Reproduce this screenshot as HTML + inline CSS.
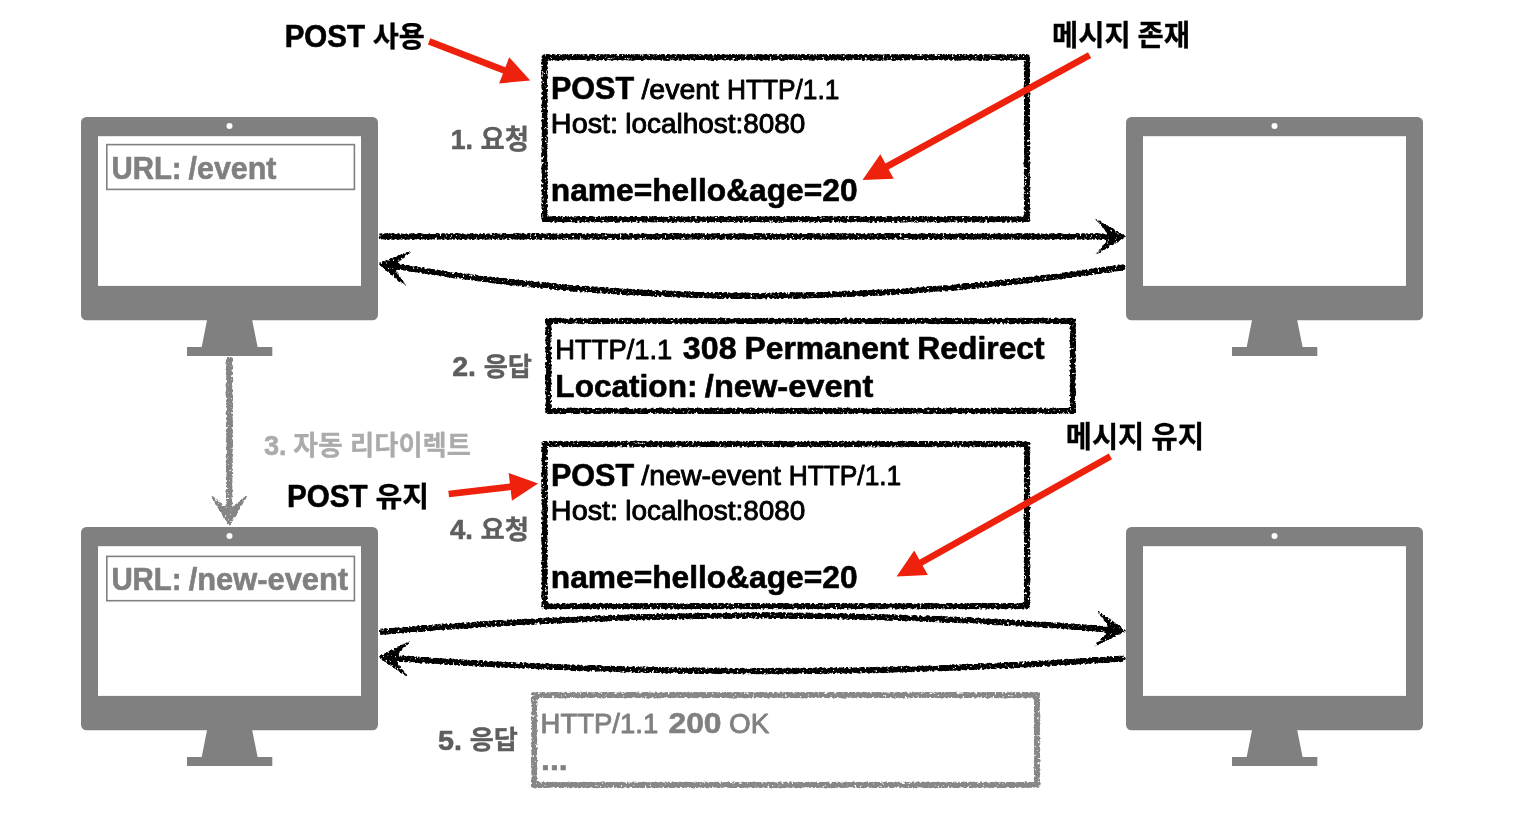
<!DOCTYPE html>
<html lang="ko"><head><meta charset="utf-8"><title>HTTP 308 Permanent Redirect</title>
<style>
html,body{margin:0;padding:0;background:#fff}
body{width:1518px;height:833px;overflow:hidden}
svg{display:block}
text{font-family:'Liberation Sans','Noto Sans CJK KR',sans-serif;white-space:pre;stroke-width:.9px;stroke-linejoin:round}
.b{font-weight:700;stroke-width:.6px}
.k{stroke-width:.3px}
</style></head><body>
<svg width="1518" height="833" viewBox="0 0 1518 833">
<defs>
<filter id="chalk" filterUnits="userSpaceOnUse" x="0" y="0" width="1518" height="833" color-interpolation-filters="sRGB"><feGaussianBlur in="SourceAlpha" stdDeviation="0.9" result="a"/><feTurbulence type="fractalNoise" baseFrequency="0.4" numOctaves="2" seed="3" result="n"/><feComposite in="a" in2="n" operator="arithmetic" k1="2.1" k2="-0.050" k3="0" k4="0" result="m"/><feComponentTransfer in="m" result="t"><feFuncA type="linear" slope="4" intercept="-1.500"/></feComponentTransfer><feFlood flood-color="#000" result="c"/><feComposite in="c" in2="t" operator="in"/></filter>
<filter id="chalkbox" filterUnits="userSpaceOnUse" x="0" y="0" width="1518" height="833" color-interpolation-filters="sRGB"><feGaussianBlur in="SourceAlpha" stdDeviation="0.9" result="a"/><feTurbulence type="fractalNoise" baseFrequency="0.4" numOctaves="2" seed="7" result="n"/><feComposite in="a" in2="n" operator="arithmetic" k1="2.1" k2="-0.050" k3="0" k4="0" result="m"/><feComponentTransfer in="m" result="t"><feFuncA type="linear" slope="4" intercept="-1.500"/></feComponentTransfer><feFlood flood-color="#000" result="c"/><feComposite in="c" in2="t" operator="in"/></filter>
<filter id="chalkg" filterUnits="userSpaceOnUse" x="0" y="0" width="1518" height="833" color-interpolation-filters="sRGB"><feGaussianBlur in="SourceAlpha" stdDeviation="0.9" result="a"/><feTurbulence type="fractalNoise" baseFrequency="0.4" numOctaves="2" seed="11" result="n"/><feComposite in="a" in2="n" operator="arithmetic" k1="2.1" k2="-0.050" k3="0" k4="0" result="m"/><feComponentTransfer in="m" result="t"><feFuncA type="linear" slope="4" intercept="-1.500"/></feComponentTransfer><feFlood flood-color="#878787" result="c"/><feComposite in="c" in2="t" operator="in"/></filter>
<filter id="chalkv" filterUnits="userSpaceOnUse" x="0" y="0" width="1518" height="833" color-interpolation-filters="sRGB"><feGaussianBlur in="SourceAlpha" stdDeviation="0.9" result="a"/><feTurbulence type="fractalNoise" baseFrequency="0.4" numOctaves="2" seed="5" result="n"/><feComposite in="a" in2="n" operator="arithmetic" k1="2.1" k2="-0.050" k3="0" k4="0" result="m"/><feComponentTransfer in="m" result="t"><feFuncA type="linear" slope="4" intercept="-1.500"/></feComponentTransfer><feFlood flood-color="#858585" result="c"/><feComposite in="c" in2="t" operator="in"/></filter>
</defs>
<rect width="1518" height="833" fill="#fff"/>
<g id="shapes">
<g transform="translate(81,117)">
<path fill="#808080" d="M5.5 0H291.5a5.5 5.5 0 0 1 5.500 5.500V197.800a5.500 5.500 0 0 1 -5.500 5.500H171.200L176.600 230H191.300V239H106V230H120.700L126 203.300H5.500a5.500 5.500 0 0 1 -5.500 -5.500V5.500a5.500 5.500 0 0 1 5.500 -5.500Z"/>
<rect x="17" y="19.200" width="263" height="149.700" fill="#fff"/>
<circle cx="148.500" cy="9" r="3" fill="#fff"/>
</g><g transform="translate(1126,117)">
<path fill="#808080" d="M5.5 0H291.5a5.5 5.5 0 0 1 5.500 5.500V197.800a5.500 5.500 0 0 1 -5.500 5.500H171.200L176.600 230H191.300V239H106V230H120.700L126 203.300H5.500a5.500 5.500 0 0 1 -5.500 -5.500V5.500a5.500 5.500 0 0 1 5.500 -5.500Z"/>
<rect x="17" y="19.200" width="263" height="149.700" fill="#fff"/>
<circle cx="148.500" cy="9" r="3" fill="#fff"/>
</g><g transform="translate(81,527)">
<path fill="#808080" d="M5.5 0H291.5a5.5 5.5 0 0 1 5.500 5.500V197.800a5.500 5.500 0 0 1 -5.500 5.500H171.200L176.600 230H191.300V239H106V230H120.700L126 203.300H5.500a5.500 5.500 0 0 1 -5.500 -5.500V5.500a5.500 5.500 0 0 1 5.500 -5.500Z"/>
<rect x="17" y="19.200" width="263" height="149.700" fill="#fff"/>
<circle cx="148.500" cy="9" r="3" fill="#fff"/>
</g><g transform="translate(1126,527)">
<path fill="#808080" d="M5.5 0H291.5a5.5 5.5 0 0 1 5.500 5.500V197.800a5.500 5.500 0 0 1 -5.500 5.500H171.200L176.600 230H191.300V239H106V230H120.700L126 203.300H5.500a5.500 5.500 0 0 1 -5.500 -5.500V5.500a5.500 5.500 0 0 1 5.500 -5.500Z"/>
<rect x="17" y="19.200" width="263" height="149.700" fill="#fff"/>
<circle cx="148.500" cy="9" r="3" fill="#fff"/>
</g><rect x="106.8" y="144.6" width="247.6" height="44.8" fill="none" stroke="#808080" stroke-width="1.6"/><rect x="106.8" y="556.4" width="247.6" height="44.3" fill="none" stroke="#808080" stroke-width="1.6"/><g filter="url(#chalkv)" fill="#858585"><rect x="226.1" y="357" width="6.6" height="152"/><path d="M229.2 526.8L249.2 493.1L229.2 510.1L209.2 493.1Z"/></g><g filter="url(#chalk)" stroke="#000" stroke-width="6.0" fill="none" stroke-linecap="butt" stroke-linejoin="miter"><path d="M379 236.5H1110"/><path stroke="none" fill="#000" d="M1126.7 236.8L1093.0 217.0L1111.0 236.8L1093.0 256.6Z"/></g><g filter="url(#chalk)" stroke="#000" stroke-width="6.0" fill="none" stroke-linecap="butt" stroke-linejoin="miter"><path d="M1125 267Q752 325.300 392 265.900"/><path stroke="none" fill="#000" d="M377.8 263.5L407.8 288.6L393.3 266.1L414.3 249.6Z"/></g><g filter="url(#chalk)" stroke="#000" stroke-width="6.0" fill="none" stroke-linecap="butt" stroke-linejoin="miter"><path d="M379.500 632Q752 600.300 1112 629.700"/><path stroke="none" fill="#000" d="M1126.8 631.0L1094.9 608.3L1111.2 629.6L1091.5 647.8Z"/></g><g filter="url(#chalk)" stroke="#000" stroke-width="6.0" fill="none" stroke-linecap="butt" stroke-linejoin="miter"><path d="M1125 658.600Q752 684.200 392 657.900"/><path stroke="none" fill="#000" d="M377.8 656.8L410.0 678.9L393.5 657.9L412.8 639.4Z"/></g><rect filter="url(#chalkbox)" x="544.6" y="57.3" width="482.4" height="162.0" fill="none" stroke="#000" stroke-width="5.9"/><rect filter="url(#chalkbox)" x="548.4" y="321.0" width="524.4" height="89.89999999999998" fill="none" stroke="#000" stroke-width="5.9"/><rect filter="url(#chalkbox)" x="544.6" y="444.1" width="482.4" height="162.10000000000002" fill="none" stroke="#000" stroke-width="5.9"/><rect filter="url(#chalkg)" x="534.2" y="695.1" width="502.79999999999995" height="89.79999999999995" fill="none" stroke="#878787" stroke-width="5.9"/><polygon fill="#EE220C" points="427.9,44.4 503.0,73.5 499.1,83.4 530.3,80.5 509.2,57.3 505.4,67.3 430.3,38.2"/><polygon fill="#EE220C" points="1088.0,52.3 885.4,163.6 880.3,154.2 862.5,180.0 893.8,178.8 888.6,169.4 1091.2,58.1"/><polygon fill="#EE220C" points="449.1,497.3 510.7,490.1 511.9,500.7 538.1,483.6 508.7,472.9 509.9,483.6 448.3,490.7"/><polygon fill="#EE220C" points="1108.8,453.4 919.4,559.8 914.2,550.5 896.6,576.4 927.9,574.9 922.6,565.6 1112.0,459.2"/></g>
<g id="texts" opacity="0.999">
<text id="t_post1" class="b" x="284.65" y="46.80" font-size="31" fill="#000" stroke="#000" textLength="80.35" lengthAdjust="spacingAndGlyphs">POST</text>
<text id="t_use" class="b k" x="372.68" y="46.67" font-size="28.74" fill="#000" stroke="#000" textLength="52.15" lengthAdjust="spacingAndGlyphs">사용</text>
<text id="t_msg1a" class="b k" x="1052.06" y="46.43" font-size="29.04" fill="#000" stroke="#000" textLength="78.64" lengthAdjust="spacingAndGlyphs">메시지</text>
<text id="t_msg1b" class="b k" x="1137.59" y="46.43" font-size="29.04" fill="#000" stroke="#000" textLength="52.54" lengthAdjust="spacingAndGlyphs">존재</text>
<text id="b1_post" class="b" x="550.95" y="98.80" font-size="31" fill="#000" stroke="#000" textLength="83.27" lengthAdjust="spacingAndGlyphs">POST</text>
<text id="b1_path" x="641.48" y="98.70" font-size="27.5" fill="#000" stroke="#000" textLength="77.52" lengthAdjust="spacingAndGlyphs">/event</text>
<text id="b1_http" x="726.94" y="98.70" font-size="27.5" fill="#000" stroke="#000" textLength="112.40" lengthAdjust="spacingAndGlyphs">HTTP/1.1</text>
<text id="b1_host" x="550.86" y="132.80" font-size="27.5" fill="#000" stroke="#000" textLength="67.17" lengthAdjust="spacingAndGlyphs">Host:</text>
<text id="b1_lh" x="625.28" y="132.80" font-size="27.5" fill="#000" stroke="#000" textLength="180.13" lengthAdjust="spacingAndGlyphs">localhost:8080</text>
<text id="b1_body" class="b" x="550.78" y="201.20" font-size="31" fill="#000" stroke="#000" textLength="306.83" lengthAdjust="spacingAndGlyphs">name=hello&amp;age=20</text>
<text id="l1_n" class="b" x="450.73" y="148.70" font-size="28" fill="#5E5E5E" stroke="#5E5E5E" textLength="22.19" lengthAdjust="spacingAndGlyphs">1.</text>
<text id="l1_k" class="b k" x="480.55" y="148.79" font-size="26.8" fill="#5E5E5E" stroke="#5E5E5E" textLength="48.60" lengthAdjust="spacingAndGlyphs">요청</text>
<text id="u1a" class="b" x="111.51" y="178.80" font-size="31" fill="#808080" stroke="#808080" textLength="70.12" lengthAdjust="spacingAndGlyphs">URL:</text>
<text id="u1b" class="b" x="188.58" y="178.80" font-size="31" fill="#808080" stroke="#808080" textLength="87.94" lengthAdjust="spacingAndGlyphs">/event</text>
<text id="b2_http" x="555.35" y="358.70" font-size="27.5" fill="#000" stroke="#000" textLength="116.90" lengthAdjust="spacingAndGlyphs">HTTP/1.1</text>
<text id="b2_308" class="b" x="682.85" y="358.70" font-size="31" fill="#000" stroke="#000" textLength="53.69" lengthAdjust="spacingAndGlyphs">308</text>
<text id="b2_perm" class="b" x="744.47" y="358.70" font-size="31" fill="#000" stroke="#000" textLength="164.43" lengthAdjust="spacingAndGlyphs">Permanent</text>
<text id="b2_red" class="b" x="917.36" y="358.70" font-size="31" fill="#000" stroke="#000" textLength="127.24" lengthAdjust="spacingAndGlyphs">Redirect</text>
<text id="b2_loc" class="b" x="555.33" y="396.80" font-size="31.5" fill="#000" stroke="#000" textLength="142.18" lengthAdjust="spacingAndGlyphs">Location:</text>
<text id="b2_new" class="b" x="704.89" y="396.80" font-size="31.5" fill="#000" stroke="#000" textLength="168.51" lengthAdjust="spacingAndGlyphs">/new-event</text>
<text id="l2_n" class="b" x="452.27" y="375.80" font-size="28" fill="#5E5E5E" stroke="#5E5E5E" textLength="23.77" lengthAdjust="spacingAndGlyphs">2.</text>
<text id="l2_k" class="b k" x="483.68" y="375.52" font-size="26.43" fill="#5E5E5E" stroke="#5E5E5E" textLength="48.35" lengthAdjust="spacingAndGlyphs">응답</text>
<text id="l3_n" class="b" x="263.88" y="455.00" font-size="28" fill="#ABABAB" stroke="#ABABAB" textLength="22.64" lengthAdjust="spacingAndGlyphs">3.</text>
<text id="l3_ka" class="b k" x="293.24" y="454.62" font-size="26.85" fill="#ABABAB" stroke="#ABABAB" textLength="49.53" lengthAdjust="spacingAndGlyphs">자동</text>
<text id="l3_kb" class="b k" x="350.05" y="454.62" font-size="26.85" fill="#ABABAB" stroke="#ABABAB" textLength="120.88" lengthAdjust="spacingAndGlyphs">리다이렉트</text>
<text id="t_post2" class="b" x="286.95" y="506.90" font-size="31" fill="#000" stroke="#000" textLength="80.56" lengthAdjust="spacingAndGlyphs">POST</text>
<text id="t_keep" class="b k" x="375.54" y="506.73" font-size="28.74" fill="#000" stroke="#000" textLength="53.61" lengthAdjust="spacingAndGlyphs">유지</text>
<text id="t_msg2a" class="b k" x="1065.81" y="446.64" font-size="29.21" fill="#000" stroke="#000" textLength="78.40" lengthAdjust="spacingAndGlyphs">메시지</text>
<text id="t_msg2b" class="b k" x="1151.31" y="446.64" font-size="29.21" fill="#000" stroke="#000" textLength="52.77" lengthAdjust="spacingAndGlyphs">유지</text>
<text id="b4_post" class="b" x="550.95" y="485.50" font-size="31" fill="#000" stroke="#000" textLength="83.27" lengthAdjust="spacingAndGlyphs">POST</text>
<text id="b4_path" x="641.39" y="485.40" font-size="27.5" fill="#000" stroke="#000" textLength="139.53" lengthAdjust="spacingAndGlyphs">/new-event</text>
<text id="b4_http" x="788.65" y="485.40" font-size="27.5" fill="#000" stroke="#000" textLength="112.59" lengthAdjust="spacingAndGlyphs">HTTP/1.1</text>
<text id="b4_host" x="550.86" y="519.50" font-size="27.5" fill="#000" stroke="#000" textLength="67.17" lengthAdjust="spacingAndGlyphs">Host:</text>
<text id="b4_lh" x="625.28" y="519.50" font-size="27.5" fill="#000" stroke="#000" textLength="180.13" lengthAdjust="spacingAndGlyphs">localhost:8080</text>
<text id="b4_body" class="b" x="550.78" y="587.90" font-size="31" fill="#000" stroke="#000" textLength="306.83" lengthAdjust="spacingAndGlyphs">name=hello&amp;age=20</text>
<text id="l4_n" class="b" x="450.00" y="538.70" font-size="28" fill="#5E5E5E" stroke="#5E5E5E" textLength="22.93" lengthAdjust="spacingAndGlyphs">4.</text>
<text id="l4_k" class="b k" x="480.55" y="538.68" font-size="26.47" fill="#5E5E5E" stroke="#5E5E5E" textLength="48.60" lengthAdjust="spacingAndGlyphs">요청</text>
<text id="u2a" class="b" x="111.39" y="590.20" font-size="31" fill="#808080" stroke="#808080" textLength="70.27" lengthAdjust="spacingAndGlyphs">URL:</text>
<text id="u2b" class="b" x="188.70" y="590.20" font-size="31" fill="#808080" stroke="#808080" textLength="159.41" lengthAdjust="spacingAndGlyphs">/new-event</text>
<text id="b5_http" x="540.55" y="732.90" font-size="28" fill="#808080" stroke="#808080" textLength="117.69" lengthAdjust="spacingAndGlyphs">HTTP/1.1</text>
<text id="b5_200" class="b" x="668.43" y="732.90" font-size="30" fill="#808080" stroke="#808080" textLength="53.14" lengthAdjust="spacingAndGlyphs">200</text>
<text id="b5_ok" x="728.97" y="732.90" font-size="28" fill="#808080" stroke="#808080" textLength="40.25" lengthAdjust="spacingAndGlyphs">OK</text>
<text id="b5_dots" class="b" x="540.99" y="770.40" font-size="30" fill="#808080" stroke="#808080" textLength="26.69" lengthAdjust="spacingAndGlyphs">...</text>
<text id="l5_n" class="b" x="438.06" y="749.70" font-size="28" fill="#5E5E5E" stroke="#5E5E5E" textLength="23.94" lengthAdjust="spacingAndGlyphs">5.</text>
<text id="l5_k" class="b k" x="469.69" y="749.43" font-size="26.32" fill="#5E5E5E" stroke="#5E5E5E" textLength="48.24" lengthAdjust="spacingAndGlyphs">응답</text>
</g>
</svg>
</body></html>
